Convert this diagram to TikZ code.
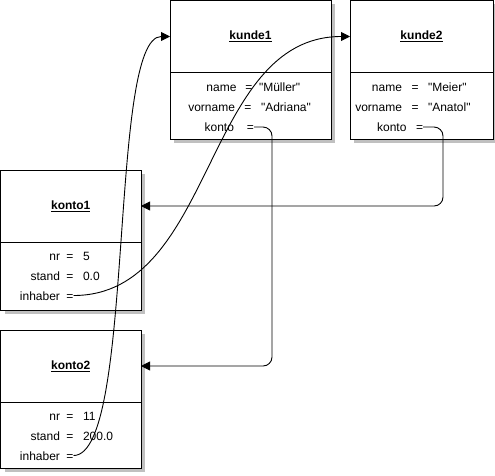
\documentclass[tikz,border=0pt]{standalone}
\usepackage{fontspec}
\setmainfont{Liberation Sans}[Ligatures=TeXOff]
\usetikzlibrary{arrows.meta}
\definecolor{shadowgray}{RGB}{192,192,192}
\tikzset{
  titlebox/.style={draw, line width=1pt, fill=white, inner sep=0pt, outer sep=0pt,
    anchor=north west, minimum height=72pt, font=\fontsize{12pt}{14pt}\selectfont\bfseries},
  bodybox/.style={draw, line width=1pt, fill=white, inner sep=0pt, outer sep=0pt, anchor=north west},
  attr/.style={inner sep=0pt, outer sep=0pt, font=\fontsize{12pt}{14pt}\selectfont},
  link/.style={line width=0.9pt, -{Triangle[length=9pt,width=9pt]}},
}
\begin{document}
\begin{tikzpicture}[x=1pt,y=-1pt]
	\useasboundingbox (0,0) rectangle (495,475);
	% shadows
	\fill[shadowgray] (174,4) rectangle (335,143);
	\fill[shadowgray] (354,4) rectangle (497,143);
	\fill[shadowgray] (4.5,174) rectangle (145,314);
	\fill[shadowgray] (4.5,334) rectangle (145,472);
	% kunde1
	\node[titlebox, minimum width=161pt] (kunde1) at (170,0.5) {\underline{kunde1}};
	\node[bodybox, minimum width=161pt, minimum height=67pt] (kunde1body) at (170,72) {};
	\node[attr, anchor=base east] (k1namek) at (236.5,91.5) {name};
	\node[attr, anchor=base] (k1nameeq) at (249,91.5) {=};
	\node[attr, anchor=base west] (k1namev) at (259,91.5) {"Müller"};
	\node[attr, anchor=base east] (k1vornamek) at (235,111.5) {vorname};
	\node[attr, anchor=base] (k1vornameeq) at (248,111.5) {=};
	\node[attr, anchor=base west] (k1vornamev) at (261,111.5) {"Adriana"};
	\node[attr, anchor=base east] (k1kontok) at (234,131.5) {konto};
	\node[attr, anchor=base] (k1kontoeq) at (250.5,131.5) {=};
	% kunde2
	\node[titlebox, minimum width=143pt] (kunde2) at (350,0.5) {\underline{kunde2}};
	\node[bodybox, minimum width=143pt, minimum height=67pt] (kunde2body) at (350,72) {};
	\node[attr, anchor=base east] (k2namek) at (402,91.5) {name};
	\node[attr, anchor=base] (k2nameeq) at (415,91.5) {=};
	\node[attr, anchor=base west] (k2namev) at (428,91.5) {"Meier"};
	\node[attr, anchor=base east] (k2vornamek) at (402,111.5) {vorname};
	\node[attr, anchor=base] (k2vornameeq) at (415,111.5) {=};
	\node[attr, anchor=base west] (k2vornamev) at (428,111.5) {"Anatol"};
	\node[attr, anchor=base east] (k2kontok) at (406.5,131.5) {konto};
	\node[attr, anchor=base] (k2kontoeq) at (419.5,131.5) {=};
	% konto1
	\node[titlebox, minimum width=140.5pt] (konto1) at (0.5,170) {\underline{konto1}};
	\node[bodybox, minimum width=140.5pt, minimum height=68pt] (konto1body) at (0.5,242) {};
	\node[attr, anchor=base east] (ko1nrk) at (60,260) {nr};
	\node[attr, anchor=base] (ko1nreq) at (70,260) {=};
	\node[attr, anchor=base west] (ko1nrv) at (83,260) {5};
	\node[attr, anchor=base east] (ko1standk) at (60,280) {stand};
	\node[attr, anchor=base] (ko1standeq) at (70,280) {=};
	\node[attr, anchor=base west] (ko1standv) at (83,280) {0.0};
	\node[attr, anchor=base east] (ko1inhaberk) at (60,300) {inhaber};
	\node[attr, anchor=base] (ko1inhabereq) at (70,300) {=};
	% konto2
	\node[titlebox, minimum width=140.5pt] (konto2) at (0.5,330) {\underline{konto2}};
	\node[bodybox, minimum width=140.5pt, minimum height=66pt] (konto2body) at (0.5,402) {};
	\node[attr, anchor=base east] (ko2nrk) at (60,420) {nr};
	\node[attr, anchor=base] (ko2nreq) at (70,420) {=};
	\node[attr, anchor=base west] (ko2nrv) at (83,420) {11};
	\node[attr, anchor=base east] (ko2standk) at (60,440) {stand};
	\node[attr, anchor=base] (ko2standeq) at (70,440) {=};
	\node[attr, anchor=base west] (ko2standv) at (83,440) {200.0};
	\node[attr, anchor=base east] (ko2inhaberk) at (60,460) {inhaber};
	\node[attr, anchor=base] (ko2inhabereq) at (70,460) {=};
	% references
	\draw[link, rounded corners=9pt] ([yshift=4.5pt]k1kontoeq.base east) -- ++(18,0) |- (konto2.east);
	\draw[link, rounded corners=9pt] ([yshift=4.5pt]k2kontoeq.base east) -- ++(20,0) |- (konto1.east);
	\draw[link] ([yshift=4.5pt]ko1inhabereq.base east) .. controls +(142,0) and +(-147,0) .. (kunde2.west);
	\draw[link] ([yshift=4.5pt]ko2inhabereq.base east) .. controls +(62,0) and +(-62,0) .. (kunde1.west);
\end{tikzpicture}
\end{document}
